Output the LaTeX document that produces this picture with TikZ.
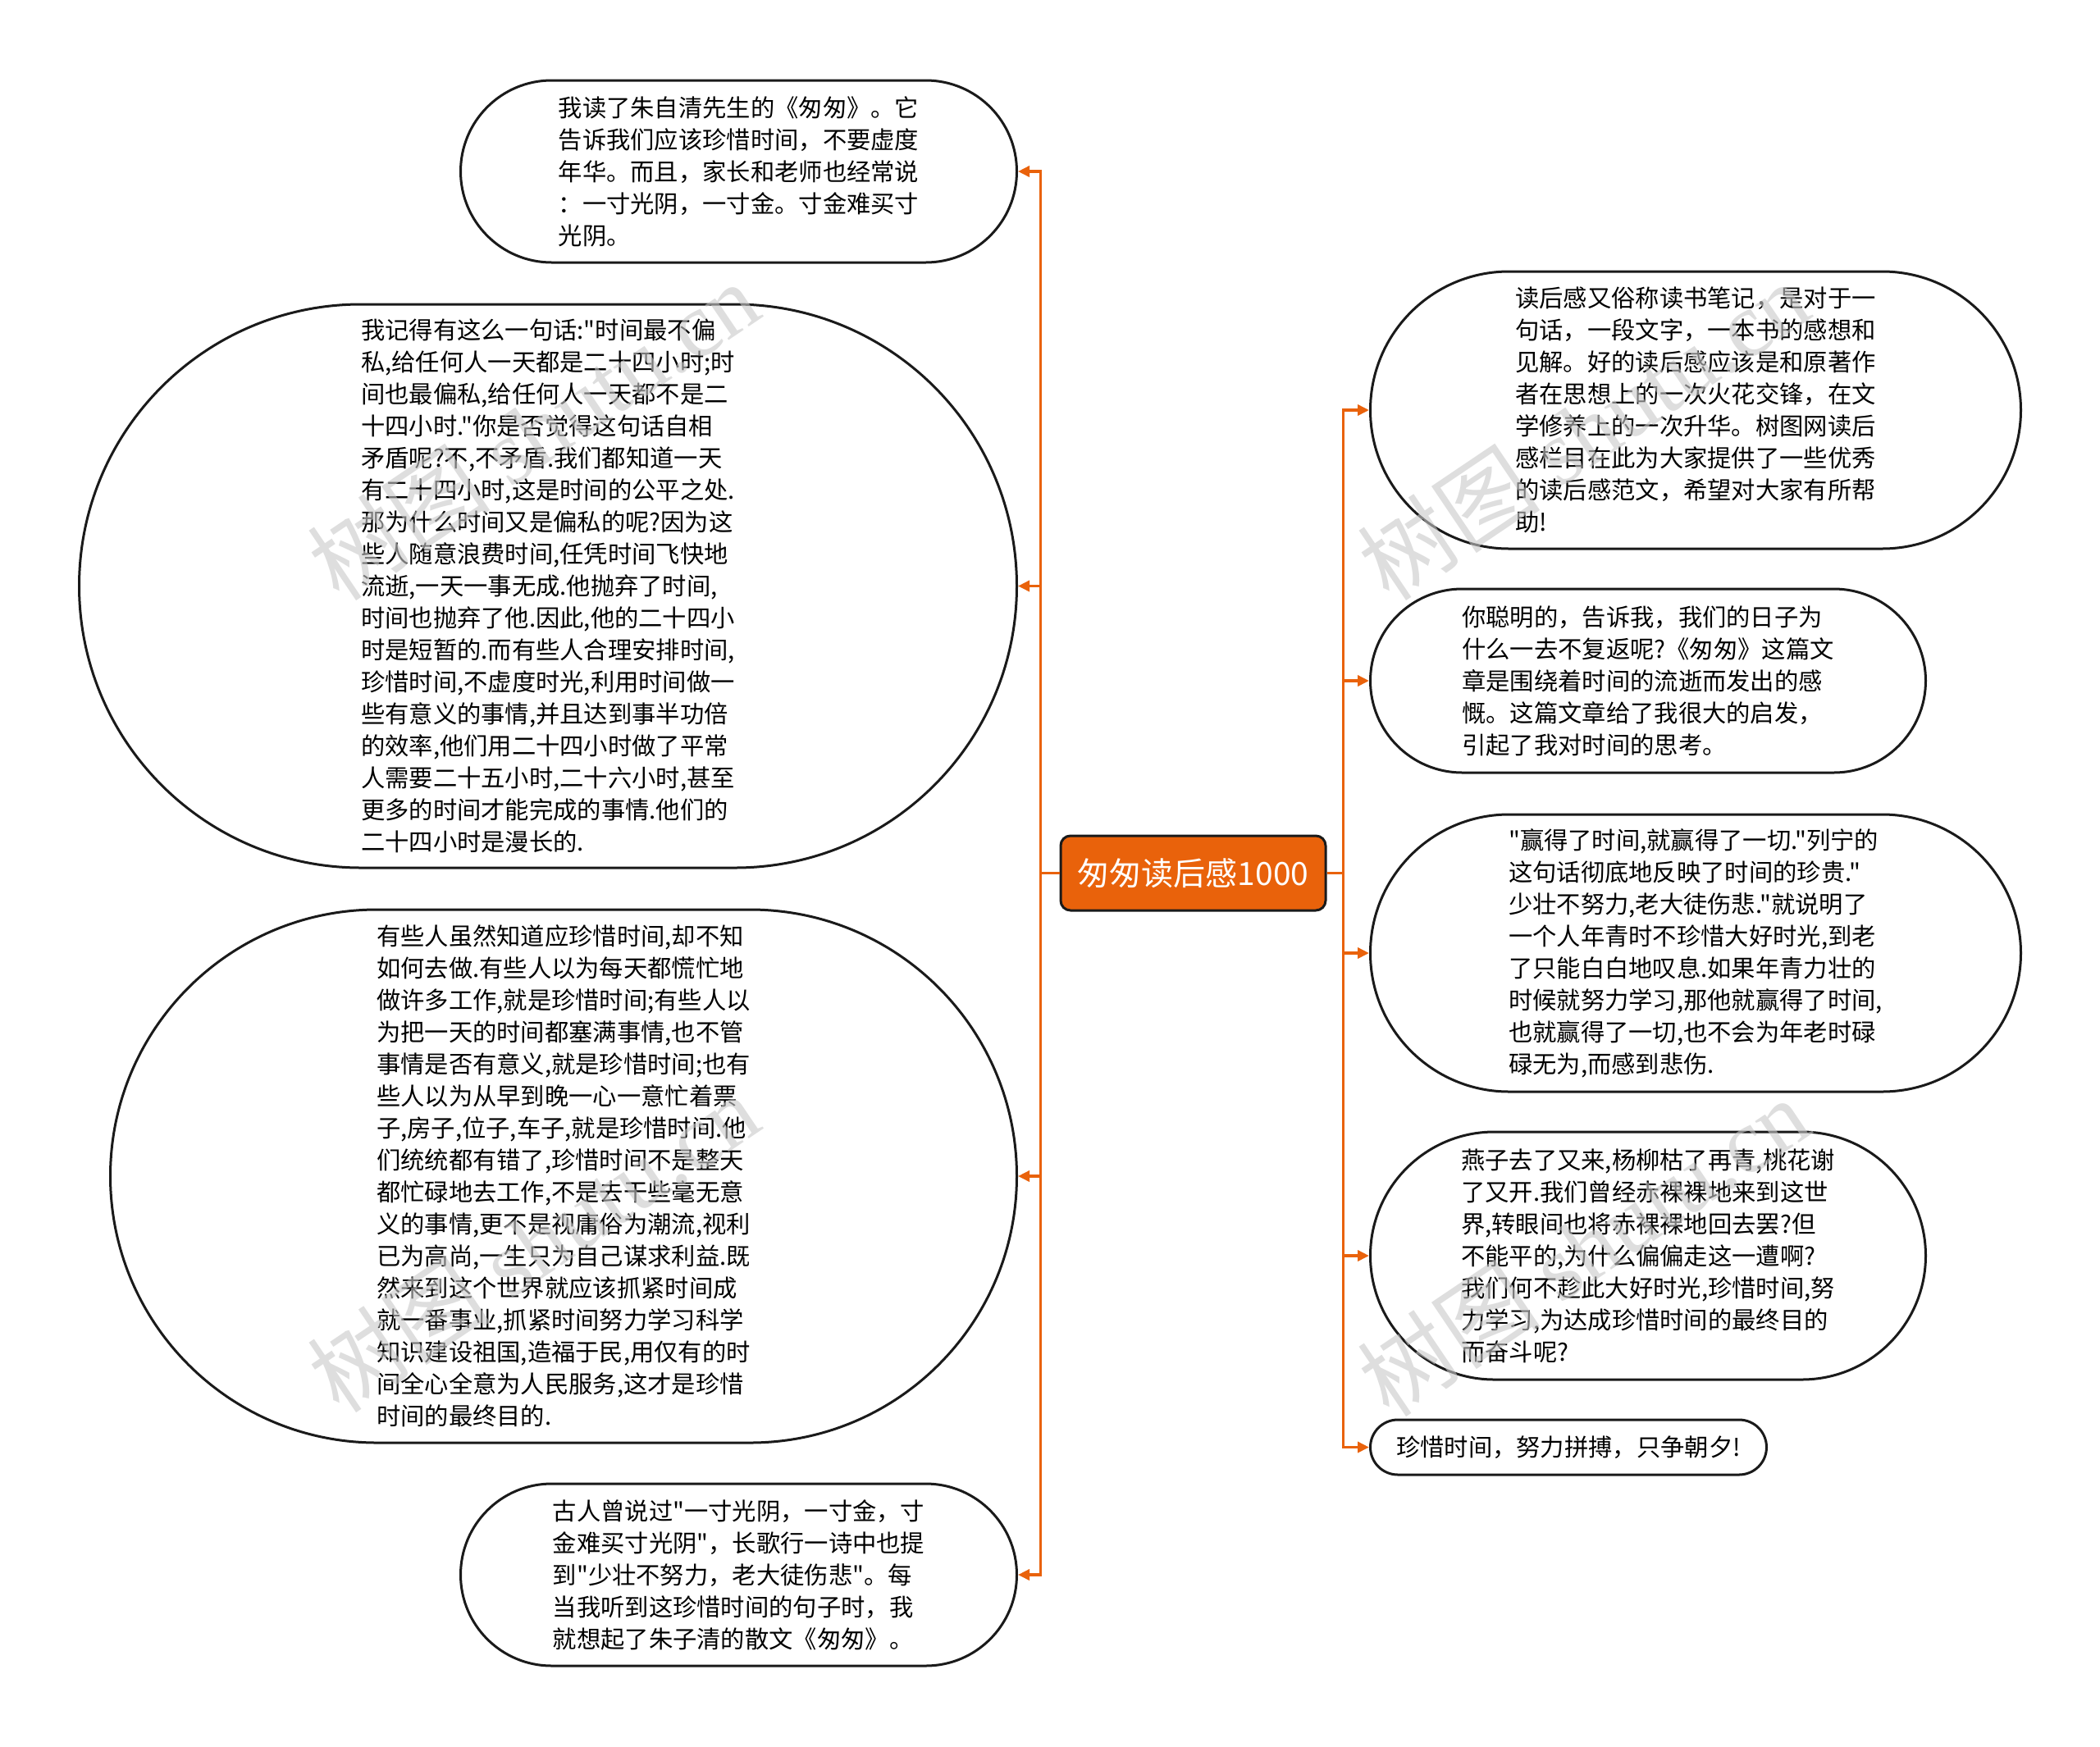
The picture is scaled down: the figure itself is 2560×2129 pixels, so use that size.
\documentclass[tikz,border=0pt]{standalone}
\usepackage{fontspec}
\setmainfont{Noto Sans CJK SC}
\newfontfamily\cjkfont{Noto Sans CJK SC}
\newfontfamily\wmfont{Liberation Serif}
\usetikzlibrary{shapes.misc,arrows.meta}
\definecolor{branchorange}{RGB}{233,98,11}
\definecolor{nodeedge}{RGB}{26,26,26}
\definecolor{wmgray}{RGB}{200,200,200}

\begin{document}
\begin{tikzpicture}[x=1pt,y=-1pt,
	every node/.style={inner sep=0pt},
	root/.style={draw=nodeedge,line width=3pt,fill=branchorange,rounded corners=12pt,text=white,
		font=\cjkfont\fontsize{39}{47}\selectfont,minimum width=323pt,minimum height=91pt},
	leaf/.style={rounded rectangle,draw=nodeedge,line width=3pt,fill=white,align=left,
		font=\cjkfont\fontsize{29.3}{39}\selectfont},
	branch/.style={draw=branchorange,line width=3.5pt,-{Triangle[length=14pt,width=13pt]}},
	wmtext/.style={text=wmgray,text opacity=0.6,font=\cjkfont\fontsize{112}{112}\selectfont,rotate=34}]
	\useasboundingbox (0,0) rectangle (2560,2129);
	% centre
	\node[root] (root) at (1454.5,1064.5) {匆匆读后感1000};
	% left side
	\node[leaf,anchor=east,minimum width=678pt,minimum height=222pt] (l1) at (1241,209) {我读了朱自清先生的《匆匆》。它\\告诉我们应该珍惜时间，不要虚度\\年华。而且，家长和老师也经常说\\：一寸光阴，一寸金。寸金难买寸\\光阴。};
	\node[leaf,anchor=east,minimum width=1143pt,minimum height=687pt] (l2) at (1241,714.5) {我记得有这么一句话:"时间最不偏\\私,给任何人一天都是二十四小时;时\\间也最偏私,给任何人一天都不是二\\十四小时."你是否觉得这句话自相\\矛盾呢?不,不矛盾.我们都知道一天\\有二十四小时,这是时间的公平之处.\\那为什么时间又是偏私的呢?因为这\\些人随意浪费时间,任凭时间飞快地\\流逝,一天一事无成.他抛弃了时间,\\时间也抛弃了他.因此,他的二十四小\\时是短暂的.而有些人合理安排时间,\\珍惜时间,不虚度时光,利用时间做一\\些有意义的事情,并且达到事半功倍\\的效率,他们用二十四小时做了平常\\人需要二十五小时,二十六小时,甚至\\更多的时间才能完成的事情.他们的\\二十四小时是漫长的.};
	\node[leaf,anchor=east,minimum width=1105pt,minimum height=650pt] (l3) at (1241,1434) {有些人虽然知道应珍惜时间,却不知\\如何去做.有些人以为每天都慌忙地\\做许多工作,就是珍惜时间;有些人以\\为把一天的时间都塞满事情,也不管\\事情是否有意义,就是珍惜时间;也有\\些人以为从早到晚一心一意忙着票\\子,房子,位子,车子,就是珍惜时间.他\\们统统都有错了,珍惜时间不是整天\\都忙碌地去工作,不是去干些毫无意\\义的事情,更不是视庸俗为潮流,视利\\已为高尚,一生只为自己谋求利益.既\\然来到这个世界就应该抓紧时间成\\就一番事业,抓紧时间努力学习科学\\知识建设祖国,造福于民,用仅有的时\\间全心全意为人民服务,这才是珍惜\\时间的最终目的.};
	\node[leaf,anchor=east,minimum width=678pt,minimum height=222pt] (l4) at (1241,1920) {古人曾说过"一寸光阴，一寸金，寸\\金难买寸光阴"，长歌行一诗中也提\\到"少壮不努力，老大徒伤悲"。每\\当我听到这珍惜时间的句子时，我\\就想起了朱子清的散文《匆匆》。};
	% right side
	\node[leaf,anchor=west,minimum width=793pt,minimum height=338pt] (r1) at (1669,500) {读后感又俗称读书笔记，是对于一\\句话，一段文字，一本书的感想和\\见解。好的读后感应该是和原著作\\者在思想上的一次火花交锋，在文\\学修养上的一次升华。树图网读后\\感栏目在此为大家提供了一些优秀\\的读后感范文，希望对大家有所帮\\助!};
	\node[leaf,anchor=west,minimum width=677pt,minimum height=224pt] (r2) at (1669,830) {你聪明的，告诉我，我们的日子为\\什么一去不复返呢?《匆匆》这篇文\\章是围绕着时间的流逝而发出的感\\慨。这篇文章给了我很大的启发，\\引起了我对时间的思考。};
	\node[leaf,anchor=west,minimum width=793pt,minimum height=338pt] (r3) at (1669,1162) {"赢得了时间,就赢得了一切."列宁的\\这句话彻底地反映了时间的珍贵."\\少壮不努力,老大徒伤悲."就说明了\\一个人年青时不珍惜大好时光,到老\\了只能白白地叹息.如果年青力壮的\\时候就努力学习,那他就赢得了时间,\\也就赢得了一切,也不会为年老时碌\\碌无为,而感到悲伤.};
	\node[leaf,anchor=west,minimum width=677pt,minimum height=302pt] (r4) at (1669,1531) {燕子去了又来,杨柳枯了再青,桃花谢\\了又开.我们曾经赤裸裸地来到这世\\界,转眼间也将赤裸裸地回去罢?但\\不能平的,为什么偏偏走这一遭啊?\\我们何不趁此大好时光,珍惜时间,努\\力学习,为达成珍惜时间的最终目的\\而奋斗呢?};
	\node[leaf,anchor=west,minimum width=483pt,minimum height=67pt] (r5) at (1669,1764.5) {珍惜时间，努力拼搏，只争朝夕!};
	% connectors
	\draw[branch] (root.west) -- ++(-23,0) |- (l1.east);
	\draw[branch] (root.west) -- ++(-23,0) |- (l2.east);
	\draw[branch] (root.west) -- ++(-23,0) |- (l3.east);
	\draw[branch] (root.west) -- ++(-23,0) |- (l4.east);
	\draw[branch] (root.east) -- ++(20,0) |- (r1.west);
	\draw[branch] (root.east) -- ++(20,0) |- (r2.west);
	\draw[branch] (root.east) -- ++(20,0) |- (r3.west);
	\draw[branch] (root.east) -- ++(20,0) |- (r4.west);
	\draw[branch] (root.east) -- ++(20,0) |- (r5.west);
	% watermarks
	\node[wmtext] (wm1) at (650,525) {树图 {\wmfont shutu.cn}};
	\node[wmtext] (wm2) at (650,1515) {树图 {\wmfont shutu.cn}};
	\node[wmtext] (wm3) at (1930,525) {树图 {\wmfont shutu.cn}};
	\node[wmtext] (wm4) at (1930,1520) {树图 {\wmfont shutu.cn}};
\end{tikzpicture}
\end{document}
